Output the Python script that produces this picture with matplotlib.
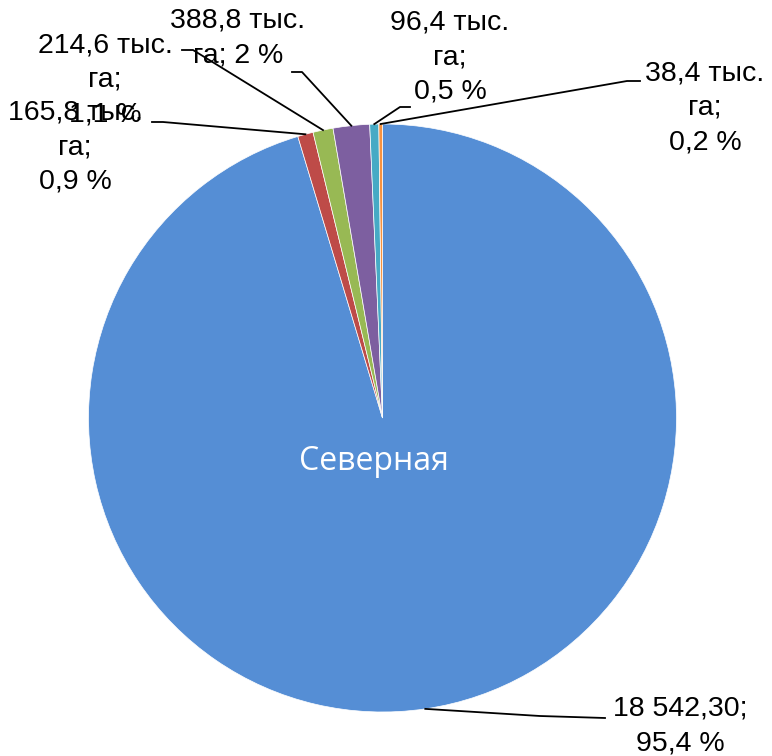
import numpy as np
import matplotlib
matplotlib.use('Agg')
import matplotlib.pyplot as plt

# data
categories = ['Северная', 'Зона 2', 'Зона 3', 'Зона 4', 'Зона 5', 'Зона 6']
values = [18542.30, 165.8, 214.6, 388.8, 96.4, 38.4]
labels = ['18 542,30;\n95,4 %',
          '165,8 тыс.\nга;\n0,9 %',
          '214,6 тыс.\nга;\n1,1 %',
          '388,8 тыс.\nга; 2 %',
          '96,4 тыс.\nга;\n0,5 %',
          '38,4 тыс.\nга;\n0,2 %']
colors = ['#558ED5', '#BE4B48', '#98B954', '#7D5FA0', '#46AAC5', '#F69240']

W, H = 772, 756
def P(x, y):
    # pixel coords (y down) -> data coords
    return x, H - y

# label layout: text centre, elbow point, text-side end of leader
text_pos = [(680, 726), (75, 147), (105, 80), (238, 38), (450, 57), (705, 108)]
elbow = [(540, 716), (163, 122), (193, 50), (302, 72), (400, 107), (627, 81)]
tail = [(605, 718), (152, 122), (182, 50), (292, 72), (410, 107), (640, 81)]

plt.rcParams['font.family'] = ['Liberation Sans', 'DejaVu Sans']
fig = plt.figure(figsize=(W / 100, H / 100), dpi=100)
ax = fig.add_axes([0, 0, 1, 1])

cx, cy = P(382.5, 418)
r = 294
wedges, _ = ax.pie(values, colors=colors, startangle=90, counterclock=False,
                   center=(cx, cy), radius=r,
                   wedgeprops=dict(edgecolor='white', linewidth=0.5))
ax.set_xlim(0, W)
ax.set_ylim(0, H)
ax.set_aspect('equal')
ax.axis('off')

for w, lab, tp, el, tl in zip(wedges, labels, text_pos, elbow, tail):
    ang = np.deg2rad((w.theta1 + w.theta2) / 2)
    px, py = cx + r * np.cos(ang), cy + r * np.sin(ang)
    ex, ey = P(*el)
    txx, tyy = P(*tl)
    ax.plot([px, ex, txx], [py, ey, tyy], color='black', lw=1.3)
    ax.text(*P(*tp), lab, ha='center', va='center', multialignment='center',
            fontsize=20.5, linespacing=1.42, color='black')

ax.text(*P(374, 461), categories[0], ha='center', va='center', color='white',
        fontsize=23, family=['Open Sans', 'DejaVu Sans'])

fig.savefig('out.png', dpi=100)
